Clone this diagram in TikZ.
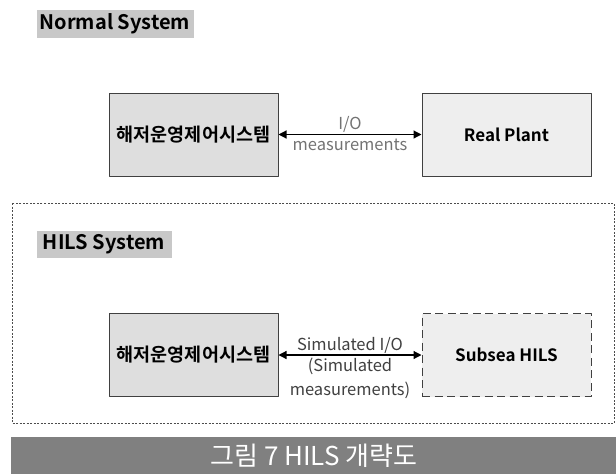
\documentclass[tikz,border=0pt]{standalone}
\usepackage{fontspec}
\setmainfont{Noto Sans CJK KR}
\newfontfamily\krbold{Noto Sans CJK KR Bold}
\usetikzlibrary{positioning,arrows.meta}
\definecolor{boxgray}{HTML}{DEDEDE}
\definecolor{plantgray}{HTML}{EEEEEE}
\definecolor{taggray}{HTML}{C8C8C8}
\definecolor{bargray}{HTML}{808080}
\tikzset{
	sysbox/.style={draw=black!75, line width=1pt, minimum width=169pt, minimum height=83pt, inner sep=0pt, font=\krbold\fontsize{17}{19}\selectfont},
	krtext/.style={font=\krbold\fontsize{18.5}{20}\selectfont},
	systag/.style={fill=taggray, inner sep=0pt, font=\krbold\fontsize{20}{22}\selectfont},
	iolabel/.style={font=\fontsize{16.5}{24}\selectfont, inner sep=1pt, align=center}
}
\begin{document}
\begin{tikzpicture}[x=1pt, y=-1pt, line join=round, >={Triangle[length=8pt, width=8pt]}]
	\useasboundingbox (0,0) rectangle (616,474);
	% normal system
	\node[systag, minimum width=157pt, minimum height=28pt] (normtag) at (115,24) {Normal System};
	\node[sysbox, krtext, fill=boxgray] (ctrlA) at (193.5,134.5) {해저운영제어시스템};
	\node[sysbox, fill=plantgray] (plant) at (506.5,134.5) {Real Plant};
	\draw[<->, line width=1.2pt] (ctrlA) -- (plant)
		node[midway, above, iolabel, text=black!55] (ioA) {I/O}
		node[midway, below, iolabel, text=black!55, yshift=-3pt] (measA) {measurements};
	% hils system
	\draw[black!70, dash pattern=on 2pt off 1.5pt] (12,203) rectangle (614,423);
	\node[systag, minimum width=135pt, minimum height=27pt] (hilstag) at (104,244.5) {HILS System};
	\node[sysbox, krtext, fill=boxgray] (ctrlB) at (193.5,355) {해저운영제어시스템};
	\node[sysbox, fill=plantgray, dash pattern=on 8pt off 4.5pt] (subsea) at (506.5,355) {Subsea HILS};
	\draw[<->, line width=1.2pt] (ctrlB) -- (subsea)
		node[midway, above, iolabel, text=black!75] (ioB) {Simulated I/O}
		node[midway, below, iolabel, text=black!75, yshift=-1pt] (measB) {(Simulated\\measurements)};
	% caption
	\fill[bargray] (11,437) rectangle (616,474);
	\node[text=white, font=\fontsize{26}{28}\selectfont] (caption) at (314,456) {그림 7 HILS 개략도};
\end{tikzpicture}
\end{document}
